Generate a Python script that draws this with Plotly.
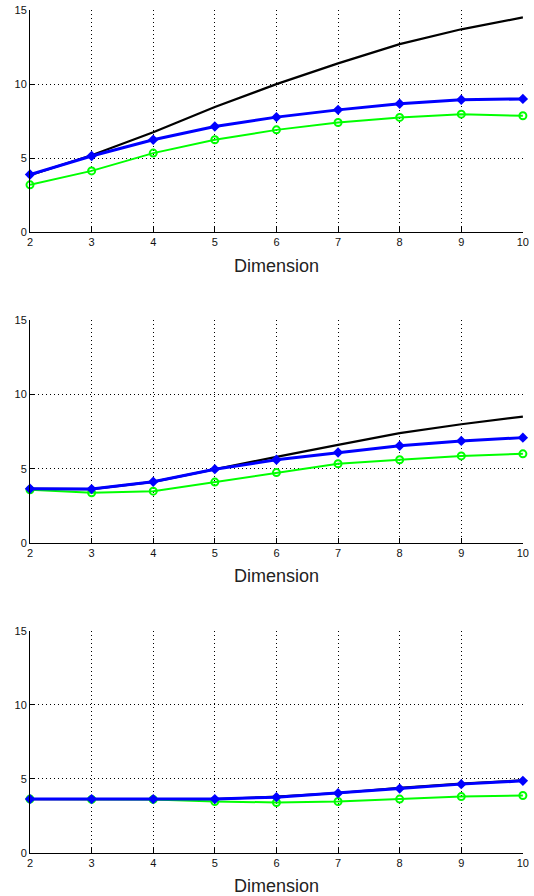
import plotly.graph_objects as go
from plotly.subplots import make_subplots

dims = [2, 3, 4, 5, 6, 7, 8, 9, 10]
x_tick_labels = ["2", "3", "4", "5", "6", "7", "8", "9", "10"]
y_tick_vals = [0, 5, 10, 15]

# Panel 1
black_1 = [3.85, 5.2, 6.75, 8.45, 10.0, 11.4, 12.7, 13.7, 14.5]
blue_1 = [3.9, 5.15, 6.24, 7.14, 7.77, 8.26, 8.67, 8.94, 9.0]
green_1 = [3.2, 4.14, 5.34, 6.24, 6.91, 7.41, 7.75, 7.97, 7.86]

# Panel 2
black_2 = [3.65, 3.63, 4.12, 4.97, 5.8, 6.6, 7.39, 7.99, 8.5]
blue_2 = [3.65, 3.63, 4.12, 4.97, 5.6, 6.09, 6.54, 6.87, 7.09]
green_2 = [3.58, 3.38, 3.49, 4.1, 4.74, 5.33, 5.6, 5.86, 6.0]

# Panel 3
black_3 = [3.64, 3.64, 3.64, 3.64, 3.8, 4.05, 4.4, 4.68, 4.9]
blue_3 = [3.64, 3.64, 3.64, 3.64, 3.77, 4.04, 4.35, 4.65, 4.87]
green_3 = [3.64, 3.62, 3.62, 3.48, 3.41, 3.48, 3.64, 3.81, 3.88]

panels = [(black_1, blue_1, green_1), (black_2, blue_2, green_2), (black_3, blue_3, green_3)]

fig = make_subplots(rows=3, cols=1, vertical_spacing=0.104)

for i, (bk, bl, gr) in enumerate(panels, start=1):
    fig.add_trace(go.Scatter(x=dims, y=bk, mode="lines",
                             line=dict(color="black", width=2.2), showlegend=False,
                             cliponaxis=False), row=i, col=1)
    fig.add_trace(go.Scatter(x=dims, y=gr, mode="lines+markers",
                             line=dict(color="#00ff00", width=2),
                             marker=dict(symbol="circle-open", size=7, color="#00ff00",
                                         line=dict(width=2, color="#00ff00")),
                             showlegend=False, cliponaxis=False), row=i, col=1)
    fig.add_trace(go.Scatter(x=dims, y=bl, mode="lines+markers",
                             line=dict(color="#0000ff", width=3),
                             marker=dict(symbol="diamond", size=8, color="#0000ff"),
                             showlegend=False, cliponaxis=False), row=i, col=1)

domains = [[0.7364, 1.0], [0.3676, 0.6324], [0.0, 0.2636]]
for i in range(1, 4):
    xa = "xaxis" if i == 1 else f"xaxis{i}"
    ya = "yaxis" if i == 1 else f"yaxis{i}"
    fig.layout[xa].update(
        range=[2, 10.002], tickvals=dims, ticktext=x_tick_labels, automargin=False,
        ticklabeloverflow="allow",
        showgrid=True, gridcolor="black", griddash="1px,3px", gridwidth=1,
        showline=True, linecolor="black", linewidth=1, zeroline=False,
        ticks="inside", ticklen=5, tickcolor="black",
        tickfont=dict(family="Liberation Sans, Arial", size=11, color="#111"),
        title=dict(text="Dimension", font=dict(family="Liberation Sans, Arial", size=18, color="#222"),
                   standoff=11),
    )
    fig.layout[ya].update(
        domain=domains[i - 1], automargin=False,
        ticklabeloverflow="allow",
        range=[0, 15.003], tickvals=y_tick_vals,
        showgrid=True, gridcolor="black", griddash="1px,3px", gridwidth=1,
        showline=True, linecolor="black", linewidth=1, zeroline=False,
        ticks="inside", ticklen=5, tickcolor="black",
        tickfont=dict(family="Liberation Sans, Arial", size=11, color="#111"),
    )

fig.update_layout(
    width=534, height=896,
    margin=dict(l=30, r=11, t=10, b=43),
    paper_bgcolor="white", plot_bgcolor="white",
)

fig.write_html("out.html", config={"displayModeBar": False},
               post_script="document.body.style.margin='0';")
